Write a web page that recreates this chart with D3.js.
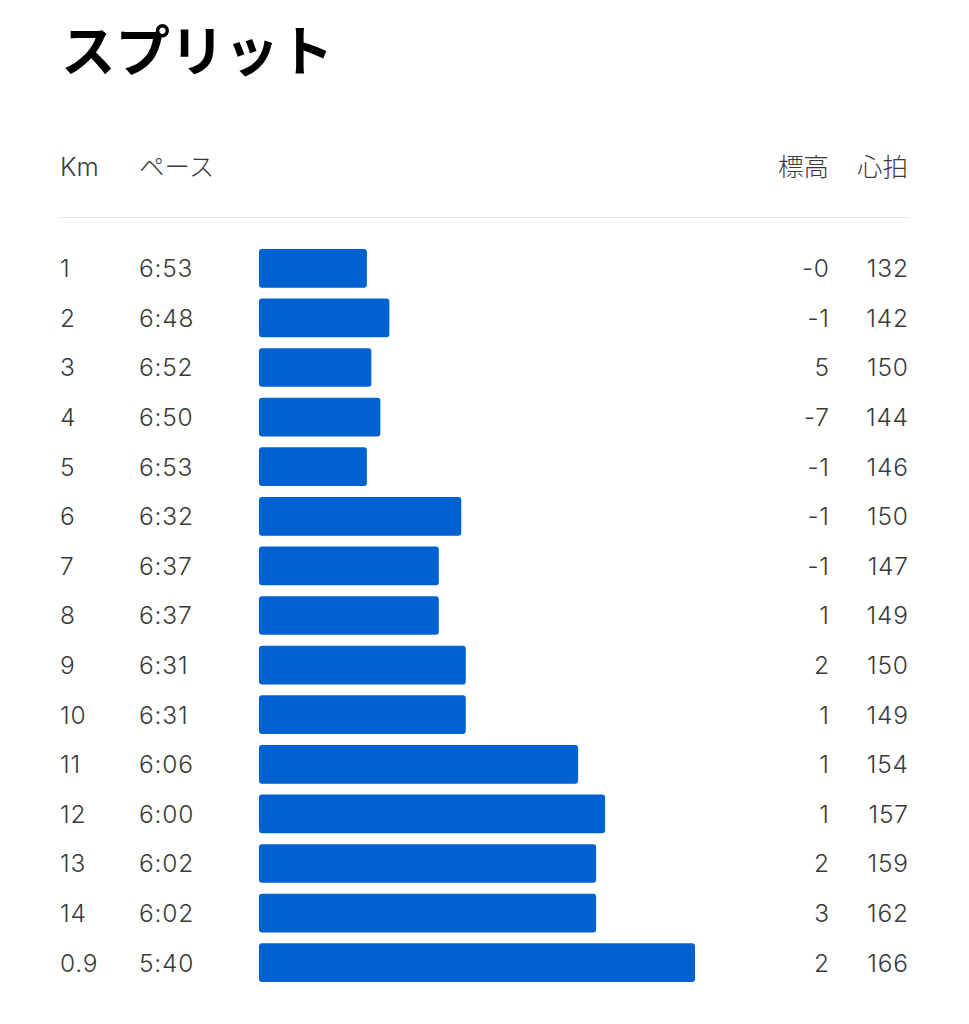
<!DOCTYPE html>
<html>
<head>
<meta charset="utf-8">
<script src="https://cdn.jsdelivr.net/npm/d3@7"></script>
<style>
    body { margin: 0; background: #fff; }
    text { font-family: Inter, "Noto Sans CJK JP", sans-serif; }
    .title { font-family: "Noto Sans CJK JP", sans-serif; }
    .head { font-family: Inter, "Noto Sans CJK JP", sans-serif; font-weight: 300; }
</style>
</head>
<body>
<svg id="chart" width="969" height="1024"></svg>
<script>
// split data
var kms = ['1', '2', '3', '4', '5', '6', '7', '8', '9', '10', '11', '12', '13', '14', '0.9'];
var paces = ['6:53', '6:48', '6:52', '6:50', '6:53', '6:32', '6:37', '6:37',
    '6:31', '6:31', '6:06', '6:00', '6:02', '6:02', '5:40'];
var elevations = ['-0', '-1', '5', '-7', '-1', '-1', '-1', '1', '2', '1', '1', '1', '2', '3', '2'];
var heartRates = [132, 142, 150, 144, 146, 150, 147, 149, 150, 149, 154, 157, 159, 162, 166];
var headers = ['Km', 'ペース', '標高', '心拍'];

var toSeconds = function(p) {
    var parts = p.split(':');
    return (+parts[0]) * 60 + (+parts[1]);
};

var svg = d3.select('#chart');
var left = 60, right = 908, elevRight = 829, paceX = 139, barX = 259;
var textColor = '#3a3a3a';
var fontSize = 24.5;

svg.append('text')
    .attr('class', 'title')
    .attr('x', 61).attr('y', 71)
    .attr('font-size', 54.5).attr('font-weight', 700)
    .attr('fill', '#000')
    .text('スプリット');

// header row
var headerY = 176;
var addHeader = function(label, xPos, anchor) {
    svg.append('text')
        .attr('class', 'head')
        .attr('x', xPos).attr('y', headerY)
        .attr('text-anchor', anchor)
        .attr('font-size', 25.5).attr('fill', textColor)
        .text(label);
};
addHeader(headers[0], left, 'start');
addHeader(headers[1], paceX, 'start');
addHeader(headers[2], elevRight, 'end');
addHeader(headers[3], right, 'end');

svg.append('line')
    .attr('x1', left).attr('x2', right)
    .attr('y1', 217.5).attr('y2', 217.5)
    .attr('stroke', '#e4e4e4').attr('stroke-width', 1);

// rows
var y = d3.scaleBand()
    .domain(d3.range(kms.length))
    .range([243.5, 987.5])
    .paddingInner(0.22)
    .paddingOuter(0.11);

// faster pace -> longer bar
var x = d3.scaleLinear()
    .domain([437, 340])
    .range([0, 436]);

var rows = svg.selectAll('.row')
    .data(kms.map(function(k, i) {
        return {km: k, pace: paces[i], elev: elevations[i], hr: heartRates[i]};
    }))
    .enter().append('g')
    .attr('class', 'row')
    .attr('transform', function(d, i) {
        return 'translate(0,' + y(i) + ')';
    });

rows.append('rect')
    .attr('x', barX)
    .attr('y', 0)
    .attr('width', function(d) { return x(toSeconds(d.pace)); })
    .attr('height', y.bandwidth())
    .attr('rx', 3)
    .attr('fill', '#0061d1');

var baseline = y.bandwidth() / 2 + 9;

var addCell = function(xPos, anchor, value) {
    rows.append('text')
        .attr('x', xPos).attr('y', baseline)
        .attr('text-anchor', anchor)
        .attr('font-size', fontSize).attr('font-weight', 300)
        .attr('letter-spacing', 0.8)
        .attr('fill', textColor)
        .text(value);
};
addCell(left, 'start', function(d) { return d.km; });
addCell(paceX, 'start', function(d) { return d.pace; });
addCell(elevRight + 0.8, 'end', function(d) { return d.elev; });
addCell(right + 0.8, 'end', function(d) { return d.hr; });
</script>
</body>
</html>
